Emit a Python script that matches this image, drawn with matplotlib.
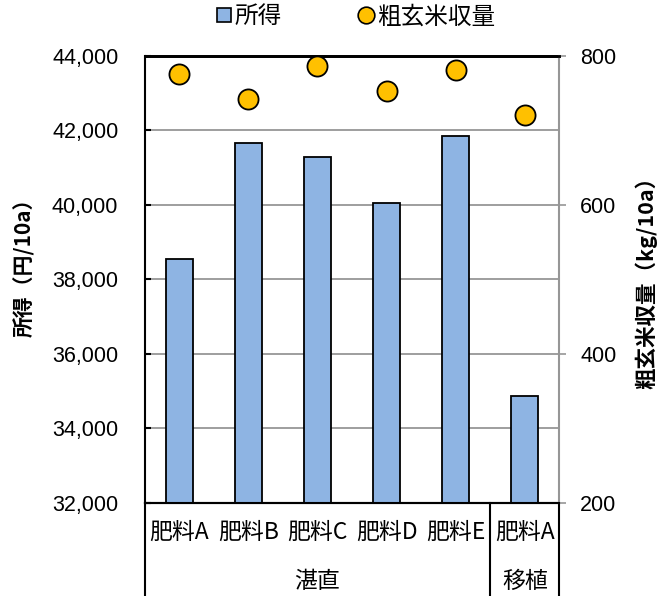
import matplotlib
matplotlib.use("Agg")
import matplotlib.pyplot as plt
import matplotlib.transforms as mtransforms
from matplotlib.lines import Line2D
import numpy as np

plt.rcParams["font.family"] = ["Liberation Sans", "Noto Sans CJK JP", "DejaVu Sans"]

# data
categories = ["肥料A", "肥料B", "肥料C", "肥料D", "肥料E", "肥料A"]
groups = ["湛直", "移植"]
group_sizes = [5, 1]
income = [38550, 41670, 41285, 40050, 41835, 34880]
rice_yield = [776, 742, 786, 753, 781, 721]

income_ticks = [32000, 34000, 36000, 38000, 40000, 42000, 44000]
yield_ticks = [200, 400, 600, 800]

jp = ["Noto Sans CJK JP", "DejaVu Sans"]
bar_color = "#8EB4E3"
dot_color = "#FFC000"
grid_color = "#969696"

W, H = 672, 596
fig = plt.figure(figsize=(W / 100, H / 100), dpi=100)
ax = fig.add_axes([0.2153, 0.156, 0.617, 0.7505])
ax2 = ax.twinx()

x = np.arange(len(categories))
ax.bar(x, income, width=0.39, color=bar_color, edgecolor="black",
       linewidth=1.3, zorder=3)
ax2.plot(x, rice_yield, "o", markersize=14.5, markerfacecolor=dot_color,
         markeredgecolor="black", markeredgewidth=1.3, zorder=4,
         clip_on=False)

ax.set_xlim(-0.5, len(categories) - 0.5)
ax.set_ylim(income_ticks[0], income_ticks[-1])
ax2.set_ylim(yield_ticks[0], yield_ticks[-1])
ax.set_yticks(income_ticks)
ax.set_yticklabels(["{:,}".format(v) for v in income_ticks], fontsize=15.5)
ax2.set_yticks(yield_ticks)
ax2.set_yticklabels([str(v) for v in yield_ticks], fontsize=15.5)
ax.set_xticks([])

for yv in income_ticks[1:-1]:
    ax.axhline(yv, color=grid_color, linewidth=1.3, zorder=1)

ax.tick_params(axis="y", direction="in", length=4, width=1.5,
               color="black", pad=19)
ax2.tick_params(axis="y", direction="out", length=5, width=1.2,
                color=grid_color, pad=10)

for a in (ax, ax2):
    a.spines["top"].set_linewidth(2)
    a.spines["top"].set_color("black")
    a.spines["bottom"].set_linewidth(1.5)
    a.spines["left"].set_linewidth(1.5)
    a.spines["left"].set_color("black")
    a.spines["right"].set_color(grid_color)
    a.spines["right"].set_linewidth(1.5)
ax.spines["right"].set_visible(False)
ax2.spines["left"].set_visible(False)
ax.patch.set_visible(False)
ax2.set_zorder(ax.get_zorder() + 1)

# axis titles
fig.text(24 / W, 1 - 262 / H, "所得（円/10a）", rotation=90, ha="center",
         va="center", family=jp, fontsize=15, fontweight="bold")
fig.text(646 / W, 1 - 277 / H, "粗玄米収量（kg/10a）", rotation=90,
         ha="center", va="center", family=jp, fontsize=15.5,
         fontweight="bold")

# category table under the axis
trans = mtransforms.blended_transform_factory(ax.transData, ax.transAxes)
for i, lab in enumerate(categories):
    ax.text(i, -0.066, lab, transform=trans, ha="center", va="center",
            family=jp, fontsize=16.5)
bottom = -0.21
start = 0
bounds = [-0.5]
for g, n in zip(groups, group_sizes):
    mid = start + (n - 1) / 2
    ax.text(mid, -0.175, g, transform=trans, ha="center", va="center",
            family=jp, fontsize=16.5)
    start += n
    bounds.append(start - 0.5)
for b in bounds:
    ax.plot([b, b], [0, bottom], transform=trans, color="black",
            linewidth=1.5, clip_on=False, zorder=5)

handles = [
    Line2D([], [], marker="s", linestyle="none", markersize=10,
           markerfacecolor=bar_color, markeredgecolor="black",
           markeredgewidth=1.2),
    Line2D([], [], marker="o", linestyle="none", markersize=12,
           markerfacecolor=dot_color, markeredgecolor="black",
           markeredgewidth=1.2),
]
fig.legend(handles, ["所得", "粗玄米収量"], loc="center",
           bbox_to_anchor=(0.527, 0.972), ncol=2, frameon=False,
           prop={"family": jp, "size": 17}, handletextpad=0.0,
           columnspacing=3.1, handlelength=0.9)

fig.savefig("out.png", dpi=100)
